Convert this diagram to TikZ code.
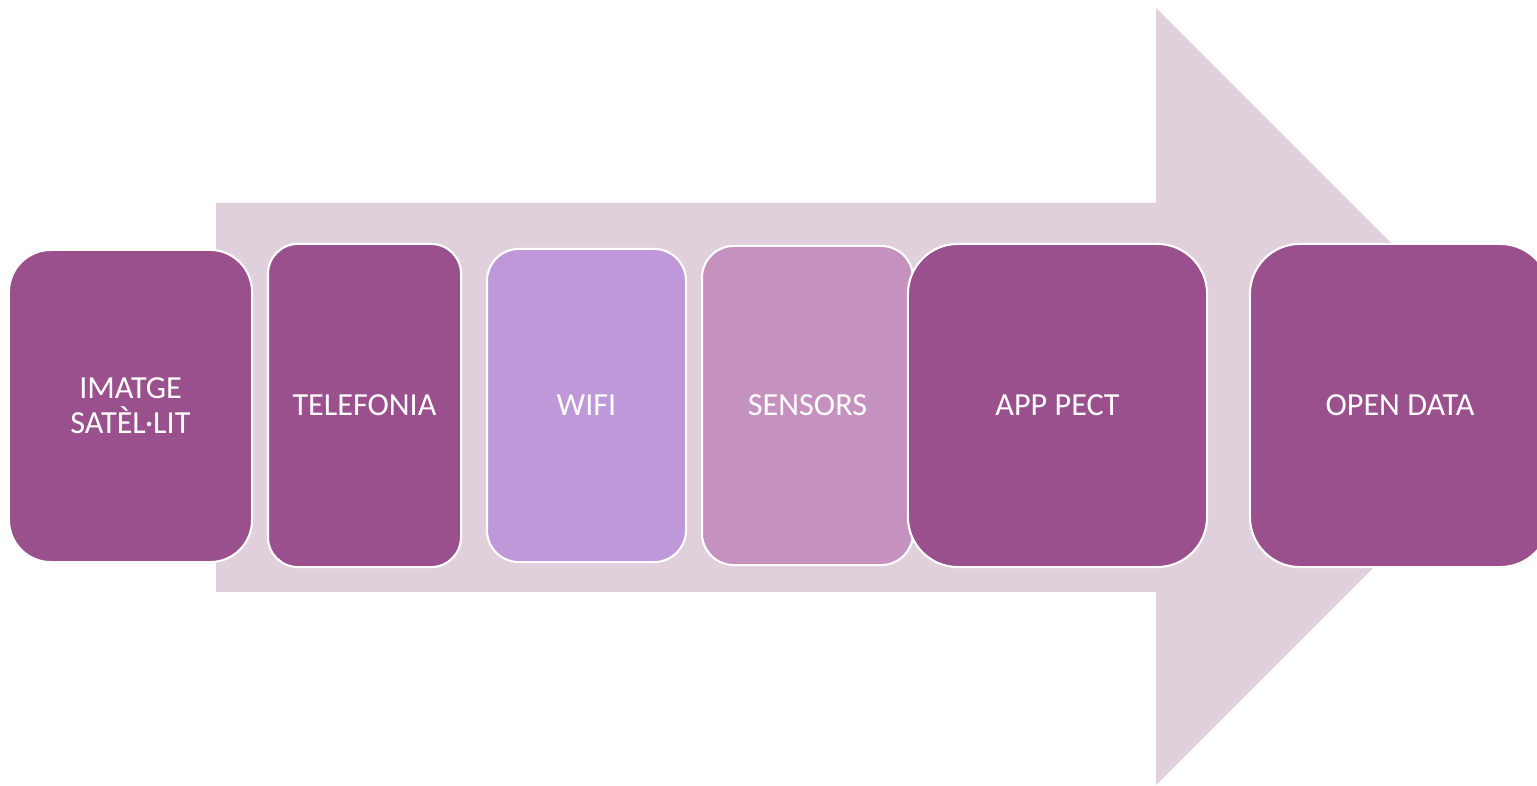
\documentclass[tikz,border=0pt]{standalone}
\usepackage{fontspec}
\setmainfont{Carlito}
\definecolor{arrowc}{RGB}{224,208,220}
\definecolor{darkp}{RGB}{155,80,142}
\definecolor{wific}{RGB}{190,152,216}
\definecolor{sensc}{RGB}{197,145,190}
\begin{document}
\begin{tikzpicture}[x=0.01cm,y=-0.01cm,
  stagebox/.style={draw=white, line width=0.6pt, text=white, align=center,
    inner sep=0pt, font=\fontsize{9.15pt}{10pt}\selectfont},
]
\useasboundingbox (0,0) rectangle (1537,786);
\clip (0,0) rectangle (1537,786);
\fill[white] (0,0) rectangle (1537,786);
% big arrow
\fill[arrowc] (216,203) -- (1156,203) -- (1156,8) -- (1544.5,396.5)
  -- (1156,785) -- (1156,592) -- (216,592) -- cycle;
% stages
\node[stagebox, fill=darkp, minimum width=2.43cm, minimum height=3.12cm, rounded corners=0.42cm]
  (s1) at (130.5,406) {IMATGE\\SATÈL·LIT};
\node[stagebox, fill=darkp, minimum width=1.93cm, minimum height=3.23cm, rounded corners=0.3cm]
  (s2) at (364.5,405.5) {TELEFONIA};
\node[stagebox, fill=wific, minimum width=1.99cm, minimum height=3.13cm, rounded corners=0.32cm]
  (s3) at (586.5,405.5) {WIFI};
\node[stagebox, fill=sensc, minimum width=2.11cm, minimum height=3.19cm, rounded corners=0.32cm]
  (s4) at (807.5,405.5) {SENSORS};
\node[stagebox, fill=darkp, minimum width=2.99cm, minimum height=3.23cm, rounded corners=0.5cm]
  (s5) at (1057.5,405.5) {APP PECT};
\node[stagebox, fill=darkp, minimum width=3.0cm, minimum height=3.23cm, rounded corners=0.5cm]
  (s6) at (1400,405.5) {OPEN DATA};
\end{tikzpicture}
\end{document}
